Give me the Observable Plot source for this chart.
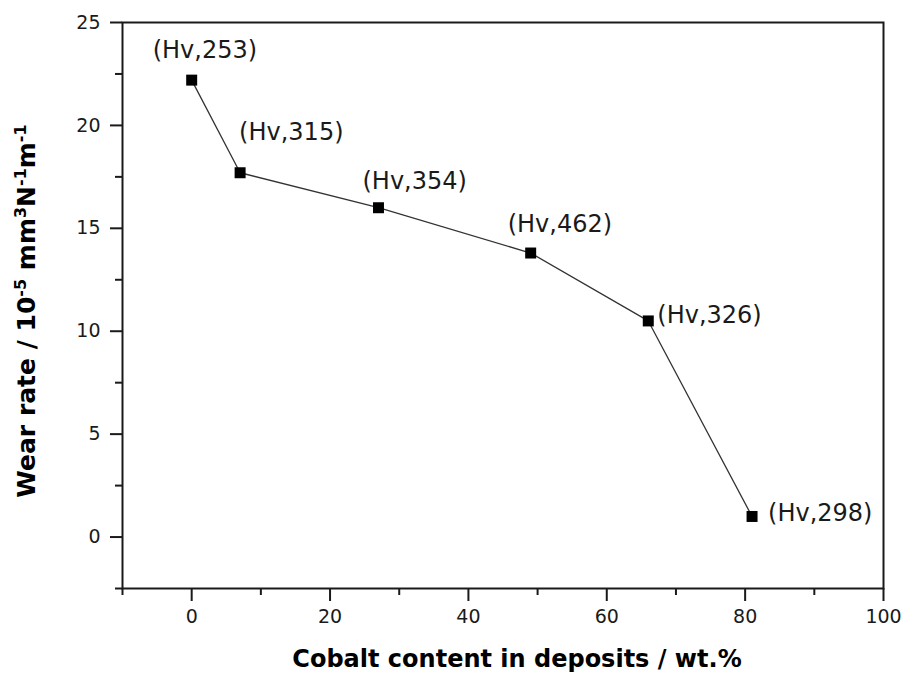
<!DOCTYPE html>
<html><head><meta charset="utf-8">
<script src="https://cdn.jsdelivr.net/npm/d3@7"></script>
<script src="https://cdn.jsdelivr.net/npm/@observablehq/plot@0.6"></script>
<style>body{margin:0;background:#fff}</style>
</head><body><div id="chart"></div>
<script>
const cobalt = [0, 7, 27, 49, 66, 81];
const wearRate = [22.2, 17.7, 16.0, 13.8, 10.5, 1.0];
const hardness = ["(Hv,253)", "(Hv,315)", "(Hv,354)", "(Hv,462)", "(Hv,326)", "(Hv,298)"];
const xMajor = [0, 20, 40, 60, 80, 100];
const xMinor = [-10, 10, 30, 50, 70, 90];
const yMajor = [0, 5, 10, 15, 20, 25];
const yMinor = [-2.5, 2.5, 7.5, 12.5, 17.5, 22.5];
const xTitle = "Cobalt content in deposits / wt.%";

// label placement (layout only)
const labelOffsets = [[-39, -30], [-1, -40], [-16, -26], [-23, -29], [9, -6], [16, -3.5]];

const data = cobalt.map((c, i) => ({c, w: wearRate[i], label: hardness[i]}));

const plot = Plot.plot({
  width: 905,
  height: 675,
  marginLeft: 122,
  marginRight: 22,
  marginTop: 22,
  marginBottom: 87,
  x: {domain: [-10, 100]},
  y: {domain: [-2.5, 25]},
  style: {fontFamily: "DejaVu Sans", fontSize: "19px", color: "#1a1a1a", background: "#fff"},
  marks: [
    Plot.axisX({ticks: xMajor, tickSize: 13, tickPadding: 8, strokeWidth: 2, fontSize: 19, label: null}),
    Plot.axisX({ticks: xMinor, tickSize: 7, strokeWidth: 2, tickFormat: () => "", label: null}),
    Plot.axisY({ticks: yMajor, tickSize: 12, tickPadding: 10, strokeWidth: 2, fontSize: 19, label: null}),
    Plot.axisY({ticks: yMinor, tickSize: 7, strokeWidth: 2, tickFormat: () => "", label: null}),
    Plot.frame({stroke: "#1a1a1a", strokeWidth: 2}),
    Plot.line(data, {x: "c", y: "w", stroke: "#333", strokeWidth: 1.3}),
    Plot.dot(data, {x: "c", y: "w", symbol: "square", r: 6.2, fill: "#000", stroke: "none"}),
    ...data.map((d, i) => Plot.text([d], {
      x: "c", y: "w", text: "label", textAnchor: "start",
      dx: labelOffsets[i][0], dy: labelOffsets[i][1],
      fontSize: 24, fill: "#1a1a1a"
    }))
  ]
});

const svg = d3.select(plot);

svg.append("text")
  .attr("x", 517).attr("y", 667)
  .attr("text-anchor", "middle")
  .attr("font-family", "DejaVu Sans").attr("font-weight", "bold").attr("font-size", 24)
  .attr("fill", "#000")
  .text(xTitle);

const yt = svg.append("text")
  .attr("transform", "translate(35,311) rotate(-90)")
  .attr("text-anchor", "middle")
  .attr("font-family", "DejaVu Sans").attr("font-weight", "bold").attr("font-size", 25)
  .attr("fill", "#000");
const yParts = [["Wear rate / 10", 0], ["-5", 1], [" mm", 0], ["3", 1], ["N", 0], ["-1", 1], ["m", 0], ["-1", 1]];
yParts.forEach(([t, sup]) => {
  const ts = yt.append("tspan").text(t);
  if (sup) ts.attr("font-size", 16).attr("baseline-shift", "super");
});

document.getElementById("chart").appendChild(plot);
</script>
</body></html>
